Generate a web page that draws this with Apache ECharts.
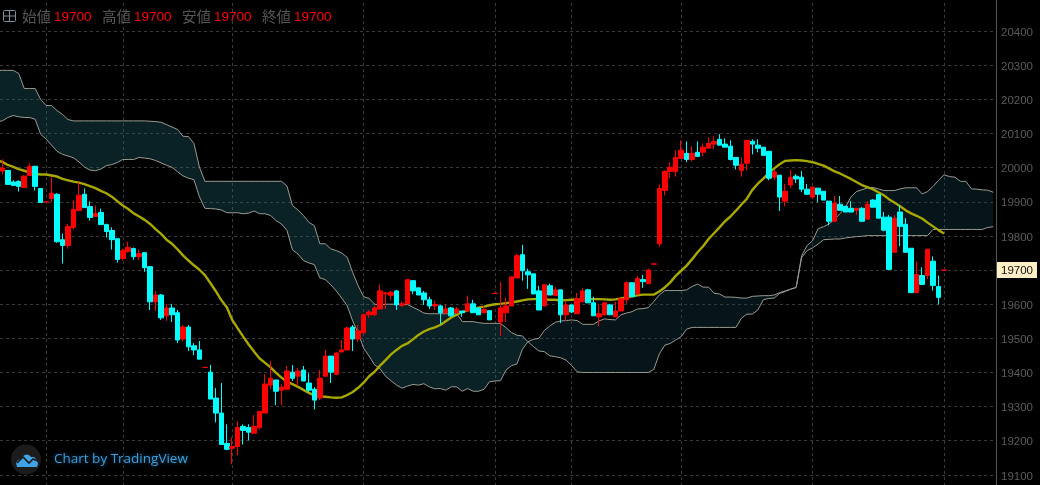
<!DOCTYPE html>
<html><head><meta charset="utf-8">
<style>html,body{margin:0;padding:0;background:#000;overflow:hidden}#c{width:1040px;height:485px}</style>
<script src="https://cdn.jsdelivr.net/npm/echarts@6/dist/echarts.min.js"></script>
</head><body><div id="c"></div>
<script>
const opens=['-',19990,19992,19958,19960,19942,19977,20004,19939,19899.5,19910,
19922,19789,19772,19825,19875,19922,19886,19857,19869,19833,
19816,19792,19734,19754,19763,19739,19751,19710,19607,19627,
19566,19589,19575,19498,19533,19478,19466,19414.5,19401,19325,
19281,19192,19178,19183,19242,19239,19222,19239,19281,19363,
19378,19348,19351,19401,19389,19407,19369,19351,19325,19389,
19448,19395,19460,19466,19533,19498,19516,19569,19569,19586,
19630,19626,19639,19596,19601,19669,19648,19633,19613,19595,
19595,19575,19589,19575,19580,19580,19601,19589,19575,19581,
19631.5,19548,19575,19595,19677,19745,19695,19689,19639,19595,
19654,19625,19642,19569,19598,19572,19607,19642,19604,19563,
19569,19598,19563,19580,19613,19663,19630,19672,19660,19717.5,
19777,19933,19989,19989,20027,20042,20024,20045,20045,20057,
20069,20083,20069,20063,20030,19992,20013,20077,20066,20060,
20048,19972,19978,19902,19949,19975,19972,19937,19914,19940,
19931,19902,19843,19893,19887,19881,19875,19881,19849,19905,
19922,19855,19855,19752,19870,19834,19764,19634,19684,19684,
19726,19652,19699.5];
const closes=['-',19999,19951,19948,19945,19975,20004,19945,19898,19900,19925,
19783,19772,19828,19878,19919,19883,19854,19866,19833,19813,
19789,19731,19757,19766,19739,19748,19707,19607,19627,19560,
19589,19569,19495,19533,19475,19466,19439,19415,19322,19281,
19189,19175,19183,19239,19230,19225,19242,19286,19366,19383,
19345,19357,19404,19383,19404,19375,19348,19319,19383,19448,
19401,19457,19466,19530,19498,19522,19569,19577,19589,19639,
19633,19635,19598,19601,19672,19639,19627,19613,19595,19599,
19575,19586,19566,19586,19575,19601,19575,19569,19585,19554,
19632,19589,19595,19680,19742,19698,19686,19630,19583,19657,
19627,19642,19569,19598,19577,19616,19639,19604,19566,19572,
19604,19569,19580,19616,19663,19622,19675,19666,19700,19718,
19939,19989,20001,20030,20051,20024,20042,20033,20060,20071,
20077,20066,20060,20024,20007,20010,20080,20069,20057,20036,
19969,19987,19914,19931,19972,19967,19937,19922,19943,19922,
19905,19843,19896,19875,19870,19870,19881,19843,19893,19884,
19852,19817,19702,19852,19828,19752,19634,19687,19658,19761,
19655,19620,19700];
const lows=['-',19980,19951,19948,19930,19942,19977,19933,19898,19899.5,19900,
19780,19719,19763,19819,19872,19883,19845,19857,19833,19795,
19760,19722,19728,19751,19730,19730,19695,19583,19580,19554,
19551,19548,19486,19492,19463,19451,19439,19414.5,19322,19254,
19189,19172,19131,19157,19189,19201,19222,19233,19281,19351,
19304,19304,19351,19375,19360,19375,19342,19292,19319,19389,
19369,19392,19460,19466,19463,19489,19516,19560,19566,19586,
19586,19613,19583,19592,19601,19630,19627,19598,19586,19583,
19542,19572,19563,19572,19563,19580,19575,19569,19575,19554,
19631.5,19507,19548,19595,19677,19669,19645,19630,19583,19595,
19627,19625,19545,19551,19574,19572,19607,19604,19566,19536,
19566,19569,19563,19580,19601,19622,19630,19648,19660,19717.5,
19769,19919,19969,19974,20027,20016,20018,20033,20033,20057,
20054,20066,20060,20021,19995,19974,19992,20039,20045,20036,
19963,19964,19873,19887,19940,19955,19928,19922,19908,19899,
19905,19831,19843,19875,19870,19870,19861,19843,19849,19884,
19852,19814,19702,19752,19770,19752,19634,19634,19658,19673,
19640,19599,19699.5];
const highs=['-',20024,19992,19963,19963,19978,20013,20004,19939,19900,19972,
19925,19807,19835,19904,19957,19939,19901,19889,19880,19836,
19825,19792,19763,19783,19766,19760,19751,19710,19639,19630,
19601,19601,19583,19539,19539,19486,19492,19415,19422,19354,
19369,19248,19210,19257,19248,19248,19275,19286,19395,19433,
19378,19366,19419,19422,19413,19419,19398,19357,19407,19466,
19448,19460,19495,19533,19539,19539,19572,19583,19595,19657,
19636,19639,19642,19609,19672,19669,19648,19639,19622,19610,
19598,19598,19592,19592,19580,19625,19613,19589,19595,19581,
19632,19666,19619,19680,19748,19774,19704,19689,19654,19657,
19660,19651,19642,19610,19598,19633,19648,19645,19622,19601,
19607,19601,19607,19616,19666,19663,19683,19686,19704,19718,
19951,19992,20016,20051,20080,20077,20063,20077,20071,20089,
20092,20098,20086,20080,20030,20030,20080,20083,20083,20060,
20048,19993,19978,19952,19993,19981,19990,19952,19943,19940,
19931,19902,19917,19917,19887,19902,19881,19884,19902,19908,
19922,19870,19861,19861,19890,19852,19764,19725,19708,19761,
19740,19684,19700];
const ma25=[20022,20017,20008,20002,19996,19991,19986,19982,19980,19980,19977,
19974,19967,19963,19959,19956,19952,19946,19940,19932,19925,
19915,19902,19889,19879,19866,19857,19847,19835,19820,19806,
19789,19777,19761,19743,19728,19714,19701,19685,19662,19638,
19612,19591,19554,19529,19505,19482,19461,19441,19428,19415,
19399,19385,19373,19366,19358,19349,19340,19333,19330,19329,
19327,19326,19327,19334,19343,19355,19370,19389,19402,19420,
19436,19453,19466,19478,19485,19497,19510,19520,19527,19532,
19539,19550,19561,19569,19577,19582,19586,19590,19593,19597,
19600,19601,19603,19605,19608,19611,19614,19615,19615,19614,
19613,19613,19611,19612,19613,19614,19614,19615,19615,19615,
19614,19613,19614,19617,19620,19623,19626,19628,19628,19628,
19637,19649,19664,19683,19698,19713,19732,19752,19770,19791,
19808,19825,19843,19857,19874,19892,19909,19935,19953,19968,
19984,19998,20010,20020,20021,20022,20021,20019,20016,20011,
20006,19998,19989,19983,19975,19967,19958,19949,19943,19937,
19928,19919,19907,19897,19887,19875,19866,19859,19851,19839,
19828,19817,19807];
const spanA=[20135,20137,20147,20153,20149,20147,20147,20142,20098,20084,20066,
20048,20039,20034,20029,20017,20002,19993,19991,19996,20006,
20009,20015,20024,20024,20024,20030,20028,20026,20021,20014,
20007,20001,19988,19976,19969,19965,19915,19881,19880,19879,
19876,19868,19868,19868,19865,19867,19873,19865,19865,19860,
19845,19835,19816,19759,19747,19728,19721,19716,19677,19672,
19657,19639,19618,19595,19551,19515,19471,19448,19422,19411,
19389,19376,19363,19354,19360,19365,19363,19367,19358,19352,
19353,19348,19358,19358,19345,19353,19345,19345,19351,19373,
19375,19376,19407,19420,19425,19468,19490,19497,19500,19523,
19536,19547,19551,19552,19554,19552,19541,19541,19541,19551,
19557,19555,19554,19569,19574,19578,19586,19587,19590,19608,
19627,19640,19640,19640,19640,19642,19652,19659,19650,19650,
19632,19630,19621,19621,19620,19618,19618,19623,19624,19625,
19625,19627,19634,19639,19644,19649,19742,19772,19786,19821,
19827,19835,19848,19865,19884,19914,19930,19935,19941,19942,
19938,19933,19933,19933,19938,19941,19941,19941,19923,19930,
19945,19963,19979,19974,19972,19960,19960,19938,19937,19935,
19934,19928];
const spanB=[20285,20285,20285,20285,20276,20232,20232,20232,20200,20182,20182,
20167,20156,20141,20137,20137,20137,20137,20137,20137,20137,
20137,20137,20137,20137,20137,20137,20137,20136,20135,20133,
20126,20119,20112,20092,20091,20071,20002,19960,19960,19960,
19960,19960,19960,19960,19960,19960,19960,19960,19960,19960,
19960,19960,19946,19889,19876,19860,19840,19830,19777,19777,
19762,19757,19750,19737,19693,19654,19622,19617,19600,19598,
19600,19600,19600,19600,19599,19591,19583,19574,19572,19572,
19572,19572,19572,19572,19549,19549,19549,19546,19544,19544,
19544,19544,19531,19517,19509,19507,19490,19476,19463,19461,
19449,19446,19443,19436,19420,19402,19400,19400,19400,19400,
19400,19400,19400,19400,19400,19400,19400,19400,19400,19409,
19454,19480,19485,19495,19505,19527,19532,19532,19532,19532,
19532,19532,19532,19532,19532,19559,19571,19571,19583,19613,
19617,19618,19632,19637,19644,19649,19737,19757,19765,19776,
19789,19790,19791,19791,19794,19796,19798,19799,19801,19801,
19801,19801,19801,19801,19801,19801,19801,19801,19801,19801,
19819,19819,19819,19819,19819,19819,19819,19819,19819,19819,
19825,19827];
const categories=spanA.map((_,i)=>String(i));
const gridIndices=[9,23,43,67,91,105,125,149,173];
const tickLabels=[20400,20300,20200,20100,20000,19900,19800,19700,19600,19500,19400,19300,19200,19100];
const lastPrice=19700;
const legendNames=['始値','高値','安値','終値'];
const legendValues=[19700,19700,19700,19700];
const brand='Chart by TradingView';

const candleData=opens.map((o,i)=>[o,closes[i],lows[i],highs[i]]);
const cloudBase=spanA.map((a,i)=>Math.min(a,spanB[i]));
const bandBAbove=spanA.map((a,i)=>Math.max(spanB[i]-a,0));
const bandAAbove=spanA.map((a,i)=>Math.max(a-spanB[i],0));
const cloudLine='#9a9a90';
const lineCommon={type:'line',showSymbol:false,symbol:'none',silent:true,animation:false};

const legendGraphics=[];
const nameX=[22,102,182,262],valX=[54,134,214,294];
legendNames.forEach((n,i)=>{
  legendGraphics.push({type:'text',x:nameX[i],y:16,style:{text:n,fill:'#575757',font:'14.5px "Noto Sans CJK JP"',textVerticalAlign:'middle'},z:50});
  legendGraphics.push({type:'text',x:valX[i],y:17,style:{text:String(legendValues[i]),fill:'#ff0000',font:'13.5px "Liberation Sans"',textVerticalAlign:'middle'},z:50});
});

const chart=echarts.init(document.getElementById('c'),null,{renderer:'canvas'});
chart.setOption({
  animation:false,
  backgroundColor:'#000',
  grid:{left:-5.91,width:1001.91,top:-3,height:512,containLabel:false,outerBoundsMode:'none'},
  xAxis:{type:'category',data:categories,boundaryGap:true,
    axisLine:{show:false},axisTick:{show:false},axisLabel:{show:false},
    splitLine:{show:true,alignWithLabel:true,interval:(i)=>gridIndices.includes(i),
      lineStyle:{color:'#3a3a3a',type:[3,3],width:1}}},
  yAxis:{type:'value',position:'right',min:19000,max:20500,interval:100,scale:true,
    axisLine:{show:true,lineStyle:{color:'#555',width:1}},axisTick:{show:false},
    splitLine:{show:true,lineStyle:{color:'#3a3a3a',type:[3,3],width:1}},
    axisLabel:{show:true,margin:1,
      formatter:v=>v===lastPrice?`{tag|${v}}`:(tickLabels.includes(v)?`{n|${v}}`:''),
      rich:{
        n:{color:'#5c5c5c',fontSize:11.5,fontFamily:'Liberation Sans',padding:[3,0,0,4]},
        tag:{color:'#111',fontSize:11.5,fontFamily:'Liberation Sans',backgroundColor:'#ffefc7',padding:[3,4,1,4]}
      }}},
  series:[
    {...lineCommon,name:'cloudBase',data:cloudBase,stack:'cloud',lineStyle:{width:0,opacity:0},z:2},
    {...lineCommon,name:'cloudBear',data:bandBAbove,stack:'cloud',lineStyle:{width:0,opacity:0},areaStyle:{color:'rgba(33,110,123,0.3)',opacity:1},z:2},
    {...lineCommon,name:'cloudBull',data:bandAAbove,stack:'cloud',lineStyle:{width:0,opacity:0},areaStyle:{color:'rgba(20,70,87,0.3)',opacity:1},z:2},
    {...lineCommon,name:'spanA',data:spanA,lineStyle:{color:cloudLine,width:1},z:3},
    {...lineCommon,name:'spanB',data:spanB,lineStyle:{color:cloudLine,width:1},z:3},
    {...lineCommon,name:'ma',data:ma25,lineStyle:{color:'#a8a800',width:2.4},z:4},
    {type:'candlestick',name:'price',data:candleData,barWidth:5,silent:true,animation:false,z:5,
      itemStyle:{color:'#ff0000',color0:'#00ffff',borderColor:'#ff0000',borderColor0:'#00ffff',borderWidth:1}}
  ],
  graphic:[
    ...legendGraphics,
    {type:'rect',shape:{x:3.5,y:10.5,width:12,height:11,r:1},style:{fill:'none',stroke:'#8090a0',lineWidth:1},z:50},
    {type:'line',shape:{x1:9.5,y1:10.5,x2:9.5,y2:21.5},style:{stroke:'#8090a0',lineWidth:1},z:50},
    {type:'line',shape:{x1:3.5,y1:16,x2:15.5,y2:16},style:{stroke:'#8090a0',lineWidth:1},z:50},
    {type:'circle',shape:{cx:26,cy:459.5,r:15},style:{fill:'#1c1c1c'},z:50},
    {type:'polygon',shape:{points:[[17,467],[16,463],[18,460],[21,459],[23,456],[26,454.5],[29,455],[31,457],[34,457],[37,460],[38,464],[37,467]]},style:{fill:'#3fa3e6'},z:51},
    {type:'polyline',shape:{points:[[17,463],[23,457],[29,463],[33,459],[38,461]]},style:{stroke:'#1c1c1c',fill:'none',lineWidth:1.6},z:52},
    {type:'text',x:54,y:459,style:{text:brand,fill:'#3f9ddb',font:'13.5px "Open Sans"',textVerticalAlign:'middle',textShadowColor:'#1c5f8c',textShadowBlur:4},z:50}
  ]
});
</script></body></html>
